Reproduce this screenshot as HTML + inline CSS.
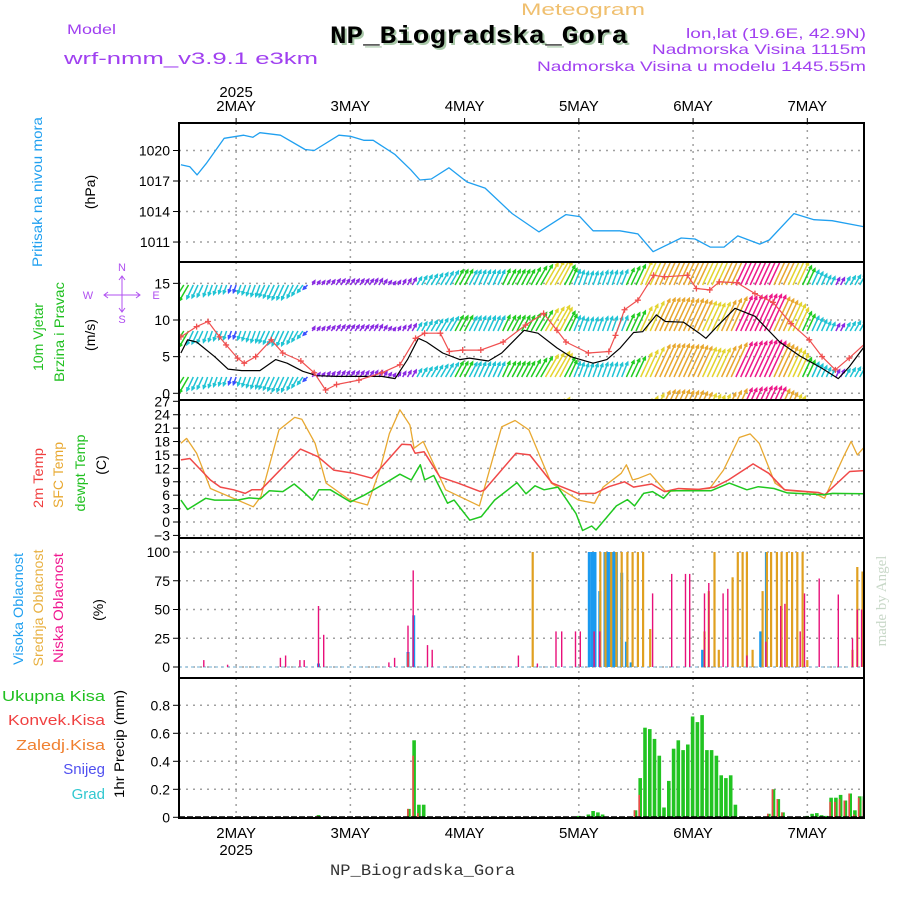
<!DOCTYPE html>
<html><head><meta charset="utf-8"><style>
html,body{margin:0;padding:0;background:#fff;width:900px;height:900px;overflow:hidden}
svg{display:block}
text{font-family:"Liberation Sans",sans-serif}
</style></head><body>
<svg id="chart" xmlns="http://www.w3.org/2000/svg" width="900" height="900" viewBox="0 0 900 900">
<defs>
<clipPath id="c1"><rect x="179" y="123" width="685" height="139"/></clipPath>
<clipPath id="c2"><rect x="179" y="262" width="685" height="138"/></clipPath>
<clipPath id="c3"><rect x="179" y="400" width="685" height="138"/></clipPath>
<clipPath id="c4"><rect x="179" y="538" width="685" height="140"/></clipPath>
<clipPath id="c5"><rect x="179" y="678" width="685" height="140"/></clipPath>
</defs>
<text x="521" y="15" textLength="124" lengthAdjust="spacingAndGlyphs" font-size="17" fill="#f0c070">Meteogram</text>
<text x="67" y="34" textLength="49" lengthAdjust="spacingAndGlyphs" font-size="14" fill="#a040f0">Model</text>
<text x="64" y="64" textLength="254" lengthAdjust="spacingAndGlyphs" font-size="17" fill="#a040f0">wrf-nmm_v3.9.1 e3km</text>
<text x="332" y="45" textLength="298" lengthAdjust="spacingAndGlyphs" font-size="25" font-weight="bold" fill="#a8c8a8" style="font-family:'Liberation Mono',monospace">NP_Biogradska_Gora</text>
<text x="330" y="43" textLength="298" lengthAdjust="spacingAndGlyphs" font-size="25" font-weight="bold" fill="#000" style="font-family:'Liberation Mono',monospace">NP_Biogradska_Gora</text>
<text x="686" y="38" textLength="180" lengthAdjust="spacingAndGlyphs" font-size="14" fill="#a040f0">lon,lat (19.6E, 42.9N)</text>
<text x="652" y="54" textLength="214" lengthAdjust="spacingAndGlyphs" font-size="14" fill="#a040f0">Nadmorska Visina 1115m</text>
<text x="537" y="71" textLength="329" lengthAdjust="spacingAndGlyphs" font-size="14" fill="#a040f0">Nadmorska Visina u modelu 1445.55m</text>
<text x="330" y="875" textLength="185" lengthAdjust="spacingAndGlyphs" font-size="16" fill="#333" style="font-family:'Liberation Mono',monospace">NP_Biogradska_Gora</text>
<text transform="translate(886,601) rotate(-90)" text-anchor="middle" font-size="15" fill="#c8d8c8" style="font-family:'Liberation Serif',serif">made by Angel</text>

<g font-size="14">
<text transform="translate(42,192) rotate(-90)" text-anchor="middle" textLength="150" lengthAdjust="spacingAndGlyphs" fill="#20a0f0">Pritisak na nivou mora</text>
<text transform="translate(95,192) rotate(-90)" text-anchor="middle" fill="#000">(hPa)</text>
<text transform="translate(43,337) rotate(-90)" text-anchor="middle" textLength="68" lengthAdjust="spacingAndGlyphs" fill="#20c020">10m Vjetar</text>
<text transform="translate(64,332) rotate(-90)" text-anchor="middle" textLength="100" lengthAdjust="spacingAndGlyphs" fill="#20c020">Brzina i Pravac</text>
<text transform="translate(95,335) rotate(-90)" text-anchor="middle" fill="#000">(m/s)</text>
<text transform="translate(43,478) rotate(-90)" text-anchor="middle" textLength="60" lengthAdjust="spacingAndGlyphs" fill="#f04040">2m Temp</text>
<text transform="translate(63,475) rotate(-90)" text-anchor="middle" textLength="66" lengthAdjust="spacingAndGlyphs" fill="#e8a830">SFC Temp</text>
<text transform="translate(85,473) rotate(-90)" text-anchor="middle" textLength="77" lengthAdjust="spacingAndGlyphs" fill="#20c020">dewpt Temp</text>
<text transform="translate(106,465) rotate(-90)" text-anchor="middle" fill="#000">(C)</text>
<text transform="translate(23,609) rotate(-90)" text-anchor="middle" textLength="112" lengthAdjust="spacingAndGlyphs" fill="#20a0f0">Visoka Oblacnost</text>
<text transform="translate(43,608) rotate(-90)" text-anchor="middle" textLength="117" lengthAdjust="spacingAndGlyphs" fill="#e8b040">Srednja Oblacnost</text>
<text transform="translate(63,608) rotate(-90)" text-anchor="middle" textLength="110" lengthAdjust="spacingAndGlyphs" fill="#f01890">Niska Oblacnost</text>
<text transform="translate(103,610) rotate(-90)" text-anchor="middle" fill="#000">(%)</text>
<text transform="translate(124,744) rotate(-90)" text-anchor="middle" textLength="108" lengthAdjust="spacingAndGlyphs" fill="#000">1hr Precip (mm)</text>
</g>
<g font-size="15" text-anchor="end">
<text x="105" y="701" textLength="103" lengthAdjust="spacingAndGlyphs" fill="#20c020">Ukupna Kisa</text>
<text x="105" y="725" textLength="97" lengthAdjust="spacingAndGlyphs" fill="#f04040">Konvek.Kisa</text>
<text x="105" y="750" textLength="89" lengthAdjust="spacingAndGlyphs" fill="#f08030">Zaledj.Kisa</text>
<text x="105" y="774" fill="#5050f0">Snijeg</text>
<text x="105" y="799" fill="#30c8d0">Grad</text>
</g>
<g fill="#b050f0" stroke="#b050f0" font-size="11">
<text x="122" y="271" text-anchor="middle" stroke="none">N</text>
<text x="88" y="299" text-anchor="middle" stroke="none">W</text>
<text x="156" y="299" text-anchor="middle" stroke="none">E</text>
<text x="122" y="323" text-anchor="middle" stroke="none">S</text>
<path fill="none" stroke-width="1" d="M104 295h36M108 292l-4 3 4 3M136 292l4 3-4 3M122 276v36M119 280l3-4 3 4M119 308l3 4 3-4"/>
</g>
<g id="grid"></g>
<g id="marks"></g>
<g id="axes"></g>
</svg>
<script>
// ---- data (hours since 2025-05-01 12Z) ----
const dayLabels = ["2MAY","3MAY","4MAY","5MAY","6MAY","7MAY"];
const dayHours = [12,36,60,84,108,132];
const pressureTicks = [1020,1017,1014,1011];
const windTicks = [15,10,5,0];
const tempTicks = [27,24,21,18,15,12,9,6,3,0,-3];
const cloudTicks = [100,75,50,25,0];
const precipTicks = [0.8,0.6,0.4,0.2,0];

const pressureHours = [0.4,2.3,3.8,5.7,9.5,13.6,15.5,17,21.3,26.5,28.4,33.6,36,38.8,40.8,45.4,48.7,50.6,53,56.7,60.5,64.3,70,75.6,81.3,84.2,87,92.6,96.4,99.6,105.5,108.4,111.6,114.5,117.4,122,124,129.2,133.4,137.2,144];
const pressureValues = [1018.6,1018.4,1017.6,1018.7,1021.2,1021.5,1021.3,1021.75,1021.5,1020.1,1020.0,1021.5,1021.4,1021,1021,1019.6,1018.1,1017.1,1017.2,1018.3,1016.9,1016.3,1013.8,1012.0,1013.7,1013.5,1012.1,1012.1,1011.8,1010.05,1011.4,1011.3,1010.5,1010.5,1011.6,1010.8,1011.2,1013.8,1013.2,1013.1,1012.5];

const windLen = [23,22,18,15,14,13,12,11,10,9, 9,8,8,9,10,11,12,12,13,14, 15,16,16,16,14,12,9,6,5,5, 5,6,6,7,7,7,7,7,7,7, 7,7,7,6,5,4,5,6,7,8, 9,10,11,12,13,14,15,16,17,17, 17,16,16,16,16,16,16,16,17,17, 17,17,17,17,19,21,23,25,27,29, 26,22,18,16,15,14,14,14,14,15, 15,15,15,16,18,20,22,26,29,32, 35,36,36,36,36,35,35,35,34,33, 32,31,30,31,33,35,37,38,38,39, 39,40,40,40,39,37,35,33,31,29, 25,21,18,16,14,12,10,9,8,8, 9,10,11,12,12];
const windDir = [215,212,210,205,205,205,200,200,200,200, 200,200,200,200,200,200,200,200,205,205, 205,205,205,205,205,210,215,225,30,35, 35,35,35,35,35,35,35,35,35,35, 35,30,30,32,35,35,30,30,30,30, 30,30,30,30,30,30,30,30,28,28, 28,28,25,25,25,25,25,25,25,28, 28,28,28,28,28,30,30,30,30,30, 28,28,25,22,20,20,20,20,20,20, 20,20,22,22,25,25,25,25,25,25, 25,25,25,25,25,25,25,25,25,25, 25,25,25,25,25,25,25,25,25,25, 25,25,25,25,25,25,25,25,25,25, 25,25,25,25,25,25,25,25,28,28, 30,30,30,30,30];
const windBandBases = [285,331,377,423];

const speedHours = [0.4,1.8,3.7,7.5,10.3,13.2,17,20.3,22.7,26,29,33,38,42.6,45.4,48,50.3,52,55.4,59,61,65,67.8,72.5,75.4,79.4,82.3,87,89.9,92.7,95.5,97.4,100.3,102.2,106,109.3,110.7,113,116.8,121,126.2,130.4,135.1,138.5,140.8,144];
const speedValues = [5.5,7.3,7.0,5.0,3.3,3.1,3.1,4.6,4.1,3.0,2.4,2.3,2.3,2.3,2.0,4.6,7.5,7.0,5.5,4.6,4.8,4.4,5.5,8.6,8.2,6.2,5.0,4.1,4.6,6.2,8.3,8.4,10.7,9.8,9.7,8.2,7.5,9.1,11.6,10.5,7.0,5.1,3.4,2.0,3.6,6.4];
const gustHours = [0.4,3.7,6.1,8.5,9.9,12.3,13.7,16.1,19.4,21.8,25.6,28.4,30.8,33.1,37.8,42.6,46.4,49.7,51.6,54.9,56.8,59.6,63.4,68.1,72.8,76.6,79.4,81.3,86,90.3,91.7,93.6,96.4,99.7,102,106.8,108.7,111.5,113.5,117.2,121,124.8,128.6,132.4,135.1,137.9,140.8,144.5];
const gustValues = [7.7,9.1,9.8,7.7,6.6,4.8,4.1,5.0,7.3,5.5,4.4,2.8,0.45,1.2,1.8,2.8,3.9,7.5,8.2,8.2,5.7,5.9,5.9,7.0,9.3,10.9,8.6,7.0,5.5,5.7,7.9,11.4,12.7,16.1,15.9,16.1,14.3,14.1,15.2,15.1,13.6,12.4,9.5,7.3,5.0,3.2,4.8,7.0];

const t2Hours = [0.4,2.3,6.6,8.7,11.5,13.9,15.3,17.2,25.5,29.2,32.5,36.7,40.5,46.8,48.7,49.6,51.5,54.8,58.6,63.3,64.2,70.8,73.7,78.4,84.1,87.4,90.3,93.6,95.5,99.3,102,104.9,109.2,112.5,115.4,120.6,123.9,127.2,134.3,135.7,140.9,144];
const t2Values = [13.9,14.2,9.4,7.8,7.2,6.4,7.2,7.2,16.3,14.6,11.6,10.9,9.8,17.4,17.3,15.4,15.7,10.1,8.7,6.8,7.2,15.4,15.0,8.7,6.3,6.4,7.9,9.0,7.8,8.5,6.8,7.5,7.3,7.8,9.4,13.0,10.9,7.2,6.6,6.1,11.3,11.5];
const sfcHours = [0.4,1.6,3.7,6.6,15.6,17.2,21,24.3,25.8,28.6,30.9,35.9,39.6,42.4,44.2,46.4,48.5,49.4,51.3,56,63.1,67.8,70.6,73.5,78.2,83.9,87.3,89.1,92.9,94,95.3,96.6,99,102.3,111.5,114.4,117.7,120,121.9,125.2,127.5,133.2,135.6,139.8,141.2,142.5,144];
const sfcValues = [17.6,18.7,15.4,7.5,3.4,5.7,20.6,23.4,23.0,17.6,8.7,4.9,3.8,12.4,19.8,25.1,21.7,16.5,18.0,7.2,3.6,21.3,22.7,20.6,8.7,4.9,4.2,7.8,10.9,12.8,9.4,9.8,10.8,6.8,7.5,11.6,18.9,19.7,17.6,8.7,7.1,6.6,5.3,15.0,18.0,15.0,16.8];
const dewHours = [0.4,1.8,5.6,7.5,12.3,14.7,17.1,19,21.8,24.2,26.1,28,29.4,31.8,36,38.9,42.7,46.4,48.8,50.7,51.6,53.5,56.4,57.8,61.1,63.5,66.3,71,72.9,74.8,76.7,79.6,81.5,83.4,84.8,86.7,87.6,91.9,94.2,95.7,97.6,99.5,101.8,103.3,111.8,115.6,119.3,121.7,125,127.8,135.4,137.3,144];
const dewValues = [4.9,2.8,5.3,4.9,4.9,5.4,5.2,7.0,6.8,8.5,6.8,4.9,7.2,7.2,4.5,6.0,8.3,10.7,9.4,12.8,9.4,10.4,4.2,4.9,0.4,1.2,4.9,8.8,6.3,8.1,7.2,7.8,4.9,1.9,-1.9,-0.9,-1.8,3.6,5.0,3.6,6.4,6.8,5.3,7.0,7.0,8.7,7.2,7.9,7.5,6.5,6.1,6.4,6.3];

const highCloudHours = [29.3,48.1,49.3,86.2,86.8,87.4,88.4,89.5,90.1,90.7,91.3,91.9,93,94,95,110,122.2,123.4];
const highCloudValues = [3,13,45,100,100,100,66,100,100,100,100,100,82,22,4,15,31,100];
const midCloudHours = [48.1,74.3,88.5,89.6,90.8,91.9,93,94.2,95.3,96.4,97.5,99,110.4,111.3,112.5,113.4,116.3,117.4,118.4,119.3,120.5,122.6,123.5,124.4,125.6,126.6,127.7,128.8,129.9,131,132,141.5,142.5,143.6];
const midCloudValues = [12,100,100,100,100,100,100,100,100,100,100,33,31,66,100,15,78,100,100,100,15,66,100,100,100,100,100,100,100,100,6,15,87,83];
const lowCloudHours = [5.2,10.2,21.3,22.4,25.4,26.3,29.3,30.4,44.1,45.3,48.1,49.2,52.2,53.2,71.3,75.3,79.2,80.4,83.3,84.3,87.2,88.4,99.5,103.5,106.4,107.3,110.4,111.3,114.3,115.3,119.3,123.3,126.4,127.3,130.5,131.4,134.5,138.5,141.5,142.5,143.4];
const lowCloudValues = [6,2,8,10,6,6,53,28,4,8,36,84,19,15,10,3,31,31,31,31,31,31,64,81,81,81,64,73,64,68,10,22,53,55,31,64,77,63,25,50,50];

const precipHours = [29.3,48.3,49.4,50.4,51.4,84,86,87,88,89,95.9,96.9,97.9,98.9,99.9,100.9,101.9,102.9,103.9,104.9,105.9,106.9,107.9,108.9,109.9,110.9,111.9,112.9,113.9,114.9,115.9,116.9,123.9,124.9,125.9,126.9,132,133,134,135,136,137,138,139,140,141,142,143,144];
const precipTotal = [0.016,0.06,0.55,0.09,0.09,0.01,0.02,0.045,0.035,0.02,0.05,0.28,0.64,0.63,0.56,0.44,0.07,0.26,0.49,0.55,0.48,0.52,0.72,0.68,0.73,0.48,0.48,0.44,0.30,0.28,0.30,0.09,0.025,0.20,0.13,0.035,0.01,0.025,0.03,0.015,0.01,0.14,0.14,0.16,0.12,0.17,0.05,0.15,0.15];
const precipConv = [0.01,0.06,0.44,0.03,0,0,0,0,0,0,0.05,0.16,0,0,0,0,0,0,0,0,0,0,0,0,0,0,0,0,0,0,0,0,0.025,0.2,0.13,0.035,0,0,0,0,0,0.11,0.11,0.13,0.12,0.17,0.02,0.14,0.12];

// ---- scales ----
const X0 = 179, PXH = 4.76, XR = 864;
function xh(h){ return X0 + h*PXH; }
function yP(p){ return 150.5 - (p-1020)*10.17; }
function yW(v){ return 393.3 - v*7.33; }
function yT(t){ return 522 - t*4.47; }
function yC(c){ return 667 - c*1.15; }
function yR(r){ return 817.3 - r*140; }
const panels = [[123,262,'c1'],[262,400,'c2'],[400,538,'c3'],[538,678,'c4'],[678,818,'c5']];

const NS = "http://www.w3.org/2000/svg";
function mk(tag, attrs, parent){
  const el = document.createElementNS(NS, tag);
  for (const k in attrs) el.setAttribute(k, attrs[k]);
  parent.appendChild(el);
  return el;
}
const grid = document.getElementById('grid');
const marks = document.getElementById('marks');
const axes = document.getElementById('axes');

// grid
panels.forEach(function(p){
  dayHours.forEach(function(h){
    const g = mk('line',{x1:xh(h),x2:xh(h),y1:p[0],y2:p[1],stroke:'#a0a0a0','stroke-width':1.5,'stroke-dasharray':'2,5'},grid);
    
    
  });
});
function hgrid(ticks, fy, top, bottom, fmt){
  ticks.forEach(function(t){
    const y = fy(t);
    if (y > top+2 && y < bottom-2){
      const g = mk('line',{x1:X0,x2:XR,y1:y,y2:y,stroke:'#a0a0a0','stroke-width':1.5,'stroke-dasharray':'2,5'},grid);
      
      
    }
    const tk = mk('line',{x1:X0-6,x2:X0,y1:y,y2:y,stroke:'#000','stroke-width':1},axes);
    
    
    const tx = mk('text',{x:X0-9,y:y+5,'text-anchor':'end','font-size':14,fill:'#000'},axes);
    tx.textContent = fmt(t);
    
    
  });
}
hgrid(pressureTicks,yP,123,262,String);
hgrid(windTicks,yW,262,400,String);
hgrid(tempTicks,yT,400,538,function(t){return t<0?'\u2212'+(-t):String(t);});
hgrid(cloudTicks,yC,538,678,String);
hgrid(precipTicks,yR,678,818,function(t){return t===0?'0':t.toFixed(1);});

// day labels
dayLabels.forEach(function(d,i){
  const x = xh(dayHours[i]);
  const a = mk('text',{x:x,y:111,'text-anchor':'middle','font-size':15,fill:'#000'},axes);
  a.textContent = d;
  
  
  const b = mk('text',{x:x,y:838,'text-anchor':'middle','font-size':15,fill:'#000'},axes);
  b.textContent = d;
  
  
  const t1 = mk('line',{x1:x,x2:x,y1:118,y2:123,stroke:'#000'},axes);
  
  
});
const y1 = mk('text',{x:xh(dayHours[0]),y:97,'text-anchor':'middle','font-size':15,fill:'#000'},axes);
y1.textContent = '2025';


const y2 = mk('text',{x:xh(dayHours[0]),y:855,'text-anchor':'middle','font-size':15,fill:'#000'},axes);
y2.textContent = '2025';



function line(hours, vals, fy, color, clip, name, w){
  let d = '';
  hours.forEach(function(h,i){ d += (i?'L':'M') + xh(h).toFixed(1) + ' ' + fy(vals[i]).toFixed(1); });
  const p = mk('path',{d:d,fill:'none',stroke:color,'stroke-width':w||1.3,'clip-path':'url(#'+clip+')','stroke-linejoin':'round'},marks);
  
  
  return p;
}
// pressure
line(pressureHours,pressureValues,yP,'#20a0f0','c1','pressure-line');

// wind arrows
function arrowColor(L,dir){
  if (L<9) return (dir<90)?'#8a2be2':'#3a50ff';
  if (L<17) return '#20c4d4';
  if (L<25) return '#22cc22';
  if (L<33) return '#e4d430';
  if (L<38) return '#e8a830';
  return '#ee1a8a';
}
const windG = mk('g',{'clip-path':'url(#c2)'},marks);


windBandBases.forEach(function(base){
  windLen.forEach(function(L,i){
    const a = windDir[i]*Math.PI/180;
    const x0 = xh(i), y0 = base;
    const x1 = x0 + L*Math.sin(a), yy1 = y0 - L*Math.cos(a);
    const ha = 0.45, hl = 3.5;
    const bx = -Math.sin(a), by = Math.cos(a);
    const hx1 = x1 + hl*(bx*Math.cos(ha) - by*Math.sin(ha)), hy1 = yy1 + hl*(bx*Math.sin(ha) + by*Math.cos(ha));
    const hx2 = x1 + hl*(bx*Math.cos(-ha) - by*Math.sin(-ha)), hy2 = yy1 + hl*(bx*Math.sin(-ha) + by*Math.cos(-ha));
    const d = 'M'+x0.toFixed(1)+' '+y0+'L'+x1.toFixed(1)+' '+yy1.toFixed(1)+'M'+hx1.toFixed(1)+' '+hy1.toFixed(1)+'L'+x1.toFixed(1)+' '+yy1.toFixed(1)+'L'+hx2.toFixed(1)+' '+hy2.toFixed(1);
    const p = mk('path',{d:d,fill:'none',stroke:arrowColor(L,windDir[i]),'stroke-width':1.5},windG);
    
    
  });
});
line(speedHours,speedValues,yW,'#000','c2','wind-speed-line',1.2);
line(gustHours,gustValues,yW,'#f05050','c2','wind-gust-line',1.2);
gustHours.forEach(function(h,i){
  const x = xh(h), y = yW(gustValues[i]);
  const m = mk('path',{d:'M'+(x-3)+' '+y+'h6M'+x+' '+(y-3)+'v6',stroke:'#f05050','stroke-width':1.3,'clip-path':'url(#c2)'},marks);
  
  
});

// temperatures
line(sfcHours,sfcValues,yT,'#e8a830','c3','sfc-temp-line');
line(t2Hours,t2Values,yT,'#f04848','c3','temp-2m-line',1.5);
line(dewHours,dewValues,yT,'#20c820','c3','dewpoint-line',1.5);

// clouds
const cb = mk('line',{x1:X0,x2:XR,y1:yC(0),y2:yC(0),stroke:'#9fc8e0','stroke-width':1.5,'stroke-dasharray':'3,3'},marks);


function bars(hours, vals, fy, color, w, clip, name, off){
  hours.forEach(function(h,i){
    if (vals[i] <= 0) return;
    const y = fy(vals[i]), y0 = fy(0);
    const r = mk('rect',{x:(xh(h)-w/2+(off||0)).toFixed(1),y:y.toFixed(1),width:w,height:(y0-y).toFixed(1),fill:color,'clip-path':'url(#'+clip+')'},marks);
    
    
  });
}
bars(highCloudHours,highCloudValues,yC,'#1a9af0',3,'c4','high-cloud-bar');
bars(midCloudHours,midCloudValues,yC,'#e0a020',2.2,'c4','mid-cloud-bar');
bars(lowCloudHours,lowCloudValues,yC,'#e8107a',1.4,'c4','low-cloud-bar');

// precip
bars(precipHours,precipTotal,yR,'#22c422',3.6,'c5','total-precip-bar');
bars(precipHours,precipConv,yR,'#f04848',1.6,'c5','convective-precip-bar',-1);
const pb = mk('line',{x1:X0,x2:XR,y1:yR(0),y2:yR(0),stroke:'#000','stroke-width':2,'stroke-dasharray':'6,2'},marks);



// panel frames
panels.forEach(function(p){
  const r = mk('rect',{x:X0,y:p[0],width:XR-X0,height:p[1]-p[0],fill:'none',stroke:'#000','stroke-width':2},axes);
  
  
});
</script>
</body></html>
